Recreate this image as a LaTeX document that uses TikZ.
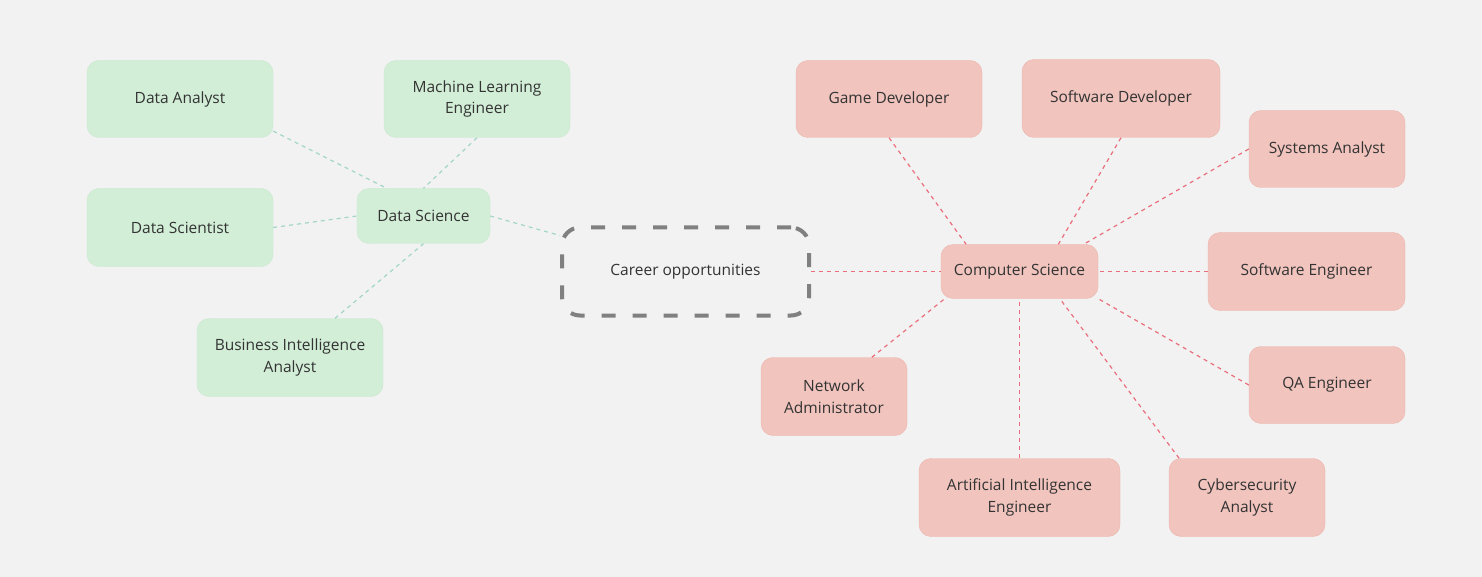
\documentclass[tikz,border=0pt]{standalone}
\usepackage{fontspec}
\setmainfont{Open Sans}
\usepackage{xcolor}
\usepackage{tikz}
\definecolor{bgpaper}{HTML}{F2F2F2}
\definecolor{greenfill}{HTML}{D2EED7}
\definecolor{greenedge}{HTML}{C8E8CF}
\definecolor{greenlink}{HTML}{A2D6C6}
\definecolor{pinkfill}{HTML}{F1C4BE}
\definecolor{pinkedge}{HTML}{EDB3AC}
\definecolor{pinklink}{HTML}{EA6F7C}
\definecolor{grayframe}{HTML}{808080}
\definecolor{textdark}{HTML}{333333}
\tikzset{every node/.append style={font=\fontsize{15.5}{21.5}\selectfont,text=textdark,align=center}}
\tikzset{
  dsbox/.style={draw=greenedge,fill=greenfill,rounded corners=12pt,inner sep=0pt},
  csbox/.style={draw=pinkedge,fill=pinkfill,rounded corners=12pt,inner sep=0pt},
  dslink/.style={greenlink,line width=1.2pt,dash pattern=on 4pt off 4pt},
  cslink/.style={pinklink,line width=1.2pt,dash pattern=on 4pt off 4pt}
}

\begin{document}
\begin{tikzpicture}[x=1pt,y=-1pt]
  \fill[bgpaper] (0,0) rectangle (1482,577);
  \useasboundingbox (0,0) rectangle (1482,577);
  \node[draw=grayframe,line width=4pt,dash pattern=on 14pt off 17pt,rounded corners=18pt,
    minimum width=247pt,minimum height=88pt,inner sep=0pt] (career) at (685.5,271.5) {Career opportunities};
  \node[dsbox,minimum width=133pt,minimum height=55pt] (ds) at (423.5,216) {Data Science};
  \node[dsbox,minimum width=186pt,minimum height=77pt] (danalyst) at (180,99) {Data Analyst};
  \node[dsbox,minimum width=186pt,minimum height=77pt] (mle) at (477,99) {Machine Learning\\Engineer};
  \node[dsbox,minimum width=186pt,minimum height=78pt] (dsci) at (180,227.5) {Data Scientist};
  \node[dsbox,minimum width=186pt,minimum height=78pt] (bia) at (290,357.5) {Business Intelligence\\Analyst};
  \node[csbox,minimum width=157pt,minimum height=54pt] (cs) at (1019.5,271.5) {Computer Science};
  \node[csbox,minimum width=186pt,minimum height=77pt] (gamedev) at (889,99) {Game Developer};
  \node[csbox,minimum width=198pt,minimum height=78pt] (softdev) at (1121,98.5) {Software Developer};
  \node[csbox,minimum width=156pt,minimum height=77pt] (sysan) at (1327,149) {Systems Analyst};
  \node[csbox,minimum width=197pt,minimum height=78pt] (softeng) at (1306.5,271.5) {Software Engineer};
  \node[csbox,minimum width=156pt,minimum height=77pt] (qa) at (1327,385) {QA Engineer};
  \node[csbox,minimum width=146pt,minimum height=78pt] (netadmin) at (834,396.5) {Network\\Administrator};
  \node[csbox,minimum width=201pt,minimum height=78pt] (aieng) at (1019.5,497.5) {Artificial Intelligence\\Engineer};
  \node[csbox,minimum width=156pt,minimum height=78pt] (cyber) at (1247,497.5) {Cybersecurity\\Analyst};

  \draw[dslink] (danalyst.341) -- (ds.143);
  \draw[dslink] (mle.south) -- (ds.north);
  \draw[dslink] (dsci.east) -- (ds.west);
  \draw[dslink] (bia.41) -- (ds.south);
  \draw[dslink] (ds.east) -- (career.164);

  \draw[cslink] (career.east) -- (cs.west);
  \draw[cslink] (gamedev.south) -- (cs.153);
  \draw[cslink] (softdev.south) -- (cs.35);
  \draw[cslink] (sysan.west) -- (cs.23);
  \draw[cslink] (softeng.west) -- (cs.east);
  \draw[cslink] (qa.west) -- (cs.south east);
  \draw[cslink] (cyber.150) -- (cs.326);
  \draw[cslink] (aieng.north) -- (cs.south);
  \draw[cslink] (netadmin.46) -- (cs.200);
\end{tikzpicture}
\end{document}
